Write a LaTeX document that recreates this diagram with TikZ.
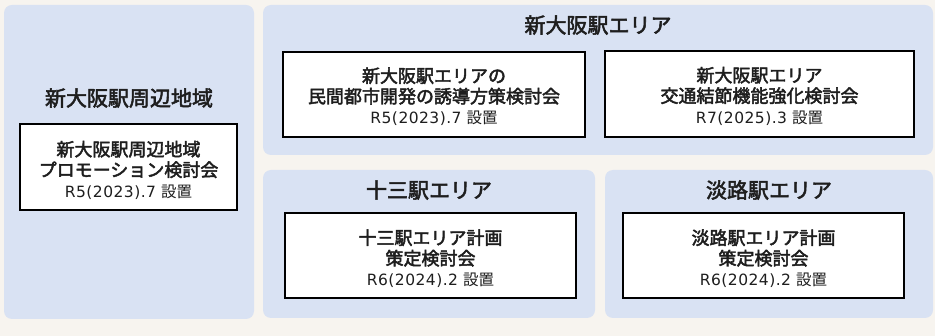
\documentclass[tikz,border=0pt]{standalone}
\usepackage{fontspec}
\setmainfont{Noto Sans CJK JP}
\newfontfamily\medf[FakeBold=2.5]{Noto Sans CJK JP}
\newfontfamily\latf[LetterSpace=3]{DejaVu Sans}
\definecolor{bgc}{HTML}{F7F4EF}
\definecolor{panelc}{HTML}{D9E2F3}
\definecolor{txtc}{HTML}{1E1E1E}
\tikzset{
  panel/.style={fill=panelc, draw=none, rounded corners=8pt, inner sep=0pt},
  box/.style={fill=white, draw=black, line width=2pt, inner sep=0pt},
  boxtext/.style={inner sep=0pt, align=center, text=txtc, yshift=-3pt,
    font=\fontsize{18}{20.5}\selectfont\medf},
  ttl/.style={text=txtc, font=\fontsize{21}{24}\selectfont\medf, inner sep=0pt},
}
\newcommand{\datel}[2]{{\fontsize{15.5}{19}\selectfont\latf #1\hspace{5pt}\normalfont\fontsize{15.5}{19}\selectfont #2}}
\begin{document}
\begin{tikzpicture}[x=1pt,y=-1pt]
\fill[bgc] (0,0) rectangle (935,336);
\useasboundingbox (0,0) rectangle (935,336);
% panels
\node[panel, minimum width=250pt, minimum height=314pt] (pL) at (129,162) {};
\node[panel, minimum width=670pt, minimum height=150pt] (pT) at (598,80) {};
\node[panel, minimum width=332pt, minimum height=148pt] (pM) at (429,244) {};
\node[panel, minimum width=328pt, minimum height=148pt] (pR) at (769,244) {};
% titles
\node[ttl] (tL) at (129,98) {新大阪駅周辺地域};
\node[ttl] (tT) at (598,25) {新大阪駅エリア};
\node[ttl] (tM) at (429,190) {十三駅エリア};
\node[ttl] (tR) at (769,190) {淡路駅エリア};
% boxes
\node[box, minimum width=217pt, minimum height=86pt] (bL) at (128.5,167) {};
\node[box, minimum width=302pt, minimum height=85pt] (b1) at (434,94.5) {};
\node[box, minimum width=309pt, minimum height=86pt] (b2) at (759.5,94) {};
\node[box, minimum width=291pt, minimum height=85pt] (bM) at (430.5,255.5) {};
\node[box, minimum width=281pt, minimum height=85pt] (bR) at (763.5,255.5) {};
% box texts
\node[boxtext] (bLt) at (bL.center) {新大阪駅周辺地域\\プロモーション検討会\\\datel{R5(2023).7}{設置}};
\node[boxtext, yshift=1pt] (b1t) at (b1.center) {新大阪駅エリアの\\民間都市開発の誘導方策検討会\\\datel{R5(2023).7}{設置}};
\node[boxtext, yshift=1pt] (b2t) at (b2.center) {新大阪駅エリア\\交通結節機能強化検討会\\\datel{R7(2025).3}{設置}};
\node[boxtext] (bMt) at (bM.center) {十三駅エリア計画\\策定検討会\\\datel{R6(2024).2}{設置}};
\node[boxtext] (bRt) at (bR.center) {淡路駅エリア計画\\策定検討会\\\datel{R6(2024).2}{設置}};
\end{tikzpicture}
\end{document}
